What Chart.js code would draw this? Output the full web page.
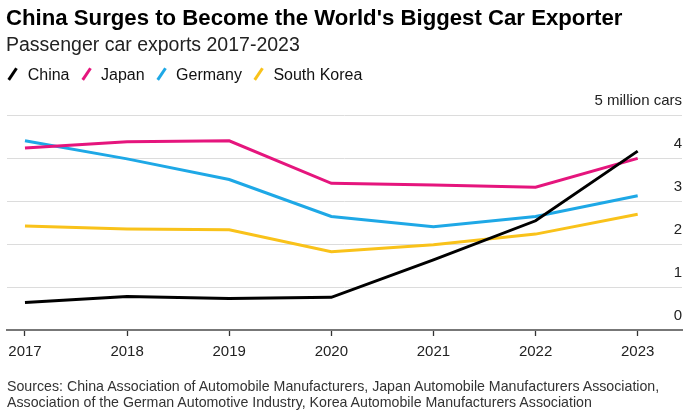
<!DOCTYPE html>
<html>
<head>
<meta charset="utf-8">
<script src="https://cdn.jsdelivr.net/npm/chart.js@4/dist/chart.umd.min.js"></script>
<style>
  html, body { margin: 0; padding: 0; background: #fff; }
  body { width: 697px; height: 420px; position: relative; overflow: hidden; font-family: "Liberation Sans", Arial, sans-serif; color: #111; }
  #chart { position: absolute; left: 0; top: 0; }
  .txt { position: absolute; white-space: nowrap; }
  #title { left: 6px; top: 7.4px; font-size: 22.2px; line-height: 22px; font-weight: bold; color: #000; }
  #subtitle { left: 6px; top: 35.2px; font-size: 19.5px; line-height: 19.5px; color: #222; }
  #legend { left: 6.7px; top: 66.5px; font-size: 16px; line-height: 16px; display: flex; color: #111; }
  .item { display: flex; align-items: center; margin-right: 10.5px; }
  .mk { width: 12px; height: 16px; position: relative; }
  .mk span { position: absolute; left: 4.5px; top: 0.8px; width: 3px; height: 14.4px; transform: rotate(33.7deg); }
  .lb { margin-left: 9px; }
  #source { left: 7px; top: 378.8px; font-size: 14.2px; line-height: 15.7px; color: #333; }
</style>
</head>
<body>
<canvas id="chart" width="697" height="420"></canvas>
<div id="title" class="txt">China Surges to Become the World's Biggest Car Exporter</div>
<div id="subtitle" class="txt">Passenger car exports 2017-2023</div>
<div id="legend" class="txt"></div>
<div id="source" class="txt">Sources: China Association of Automobile Manufacturers, Japan Automobile Manufacturers Association,<br>Association of the German Automotive Industry, Korea Automobile Manufacturers Association</div>
<script>
// ---- data ----
const years = [2017, 2018, 2019, 2020, 2021, 2022, 2023];
const yearLabels = ['2017', '2018', '2019', '2020', '2021', '2022', '2023'];
const seriesNames = ['China', 'Japan', 'Germany', 'South Korea'];
const china   = [0.64, 0.78, 0.73, 0.76, 1.63, 2.54, 4.16];
const japan   = [4.23, 4.38, 4.40, 3.41, 3.37, 3.32, 3.99];
const germany = [4.40, 3.98, 3.50, 2.64, 2.40, 2.64, 3.12];
const korea   = [2.42, 2.35, 2.33, 1.82, 1.98, 2.23, 2.69];
const yTicks = [0, 1, 2, 3, 4, 5];
const yTickLabels = ['0', '1', '2', '3', '4', '5 million cars'];
const colors = ['#000000', '#e5157d', '#1ea8e6', '#f9c21a'];

const seriesValues = [china, japan, germany, korea];

// legend (HTML)
const legend = document.getElementById('legend');
seriesNames.forEach((n, i) => {
  const it = document.createElement('div');
  it.className = 'item';
  it.innerHTML = '<div class="mk"><span style="background:' + colors[i] + '"></span></div><div class="lb">' + n + '</div>';
  legend.appendChild(it);
});

Chart.defaults.font.family = '"Liberation Sans", Arial, sans-serif';

new Chart(document.getElementById('chart'), {
  type: 'line',
  data: {
    datasets: seriesNames.map((n, i) => ({
      label: n,
      data: years.map((x, j) => ({ x: x, y: seriesValues[i][j] })),
      borderColor: colors[i],
      backgroundColor: colors[i],
      borderWidth: 3,
      pointRadius: 0,
      pointHoverRadius: 0,
      tension: 0,
      fill: false
    }))
  },
  options: {
    responsive: false,
    animation: false,
    events: [],
    layout: { padding: { left: 7, right: 15, top: 115, bottom: 52 } },
    plugins: { legend: { display: false }, title: { display: false }, tooltip: { enabled: false } },
    scales: {
      x: {
        type: 'linear',
        min: 2016.824,
        max: 2023.434,
        afterBuildTicks: (s) => { s.ticks = years.map(v => ({ value: v })); },
        grid: { display: true, drawOnChartArea: false, drawTicks: true, tickLength: 6, tickColor: '#333', tickWidth: 1.3 },
        border: { display: true, color: '#777', width: 2 },
        ticks: {
          padding: 7,
          font: { size: 15 },
          color: '#222',
          maxRotation: 0,
          autoSkip: false,
          callback: (v) => yearLabels[years.indexOf(v)]
        }
      },
      y: {
        position: 'right',
        min: 0,
        max: 5,
        afterBuildTicks: (s) => { s.ticks = yTicks.map(v => ({ value: v })); },
        grid: { color: '#dcdcdc', lineWidth: 1, drawTicks: false },
        border: { display: false },
        ticks: {
          mirror: true,
          padding: 0,
          labelOffset: -14,
          font: { size: 15 },
          color: '#222',
          callback: (v) => yTickLabels[yTicks.indexOf(v)]
        }
      }
    }
  }
});
</script>
</body>
</html>
